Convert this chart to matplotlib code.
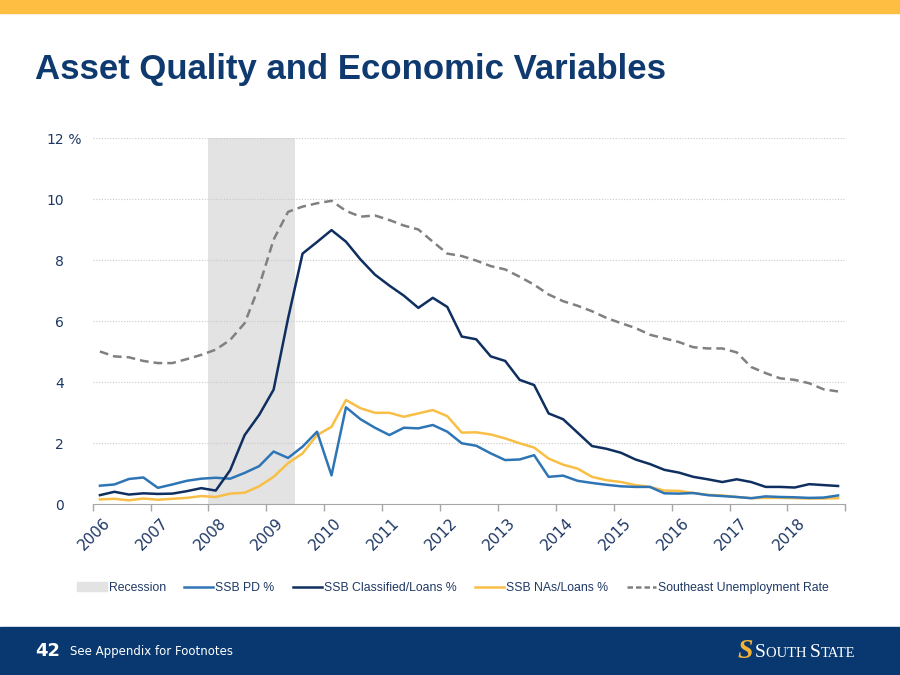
import matplotlib
matplotlib.use("Agg")
import matplotlib.pyplot as plt
import numpy as np
from matplotlib.lines import Line2D
from matplotlib.patches import Patch, Rectangle
from matplotlib.transforms import offset_copy

# quarterly data, 2006 Q1 .. 2018 Q4
pd_pct = [0.61, 0.65, 0.83, 0.88, 0.54, 0.65, 0.77, 0.84, 0.87, 0.84, 1.03, 1.25, 1.73,
          1.52, 1.89, 2.38, 0.95, 3.18, 2.79, 2.51, 2.27, 2.51, 2.49, 2.60, 2.38, 2.00,
          1.92, 1.67, 1.45, 1.47, 1.61, 0.90, 0.94, 0.77, 0.70, 0.64, 0.59, 0.57, 0.57,
          0.36, 0.35, 0.37, 0.30, 0.27, 0.24, 0.20, 0.26, 0.24, 0.23, 0.21, 0.22, 0.29]
classified_pct = [0.30, 0.41, 0.32, 0.36, 0.34, 0.35, 0.43, 0.53, 0.45, 1.12, 2.27, 2.93, 3.76,
                  6.10, 8.22, 8.60, 8.99, 8.61, 8.03, 7.53, 7.17, 6.84, 6.44, 6.77, 6.47, 5.50,
                  5.41, 4.85, 4.70, 4.08, 3.91, 2.98, 2.79, 2.35, 1.91, 1.82, 1.69, 1.47, 1.32,
                  1.13, 1.04, 0.90, 0.82, 0.73, 0.82, 0.73, 0.57, 0.57, 0.55, 0.66, 0.63, 0.60]
nas_pct = [0.16, 0.18, 0.13, 0.19, 0.15, 0.18, 0.21, 0.27, 0.24, 0.35, 0.38, 0.59, 0.90,
           1.35, 1.67, 2.27, 2.54, 3.42, 3.15, 3.00, 3.00, 2.87, 2.98, 3.09, 2.89, 2.35,
           2.36, 2.29, 2.16, 2.00, 1.86, 1.50, 1.30, 1.17, 0.90, 0.79, 0.73, 0.63, 0.57,
           0.45, 0.44, 0.37, 0.31, 0.29, 0.24, 0.20, 0.21, 0.21, 0.20, 0.19, 0.19, 0.20]
unemployment = [5.01, 4.85, 4.82, 4.70, 4.63, 4.63, 4.76, 4.90, 5.07, 5.39, 5.94, 7.15, 8.68,
                9.59, 9.76, 9.87, 9.95, 9.62, 9.43, 9.47, 9.32, 9.14, 9.01, 8.61, 8.22, 8.14,
                7.99, 7.81, 7.70, 7.46, 7.20, 6.88, 6.66, 6.51, 6.33, 6.11, 5.94, 5.78, 5.56,
                5.44, 5.32, 5.15, 5.11, 5.11, 4.98, 4.50, 4.30, 4.13, 4.08, 3.97, 3.77, 3.70]
years = list(range(2006, 2019))
recession = (2008.0, 2009.5)

NAVY = "#0f3a70"
TEXT = "#1f3864"

quarters = np.array([y + (q + 0.5) / 4 for y in years for q in range(4)])

fig = plt.figure(figsize=(9, 6.75), dpi=100)
fig.patch.set_facecolor("white")

# top gold band and bottom navy footer
fig.patches.append(Rectangle((0, 1 - 13 / 675), 1, 13 / 675, transform=fig.transFigure,
                             color="#fdbe41", zorder=0))
fig.patches.append(Rectangle((0, 0), 1, 48 / 675, transform=fig.transFigure,
                             color="#08386f", zorder=0))

fig.text(35 / 900, 1 - 70 / 675, "Asset Quality and Economic Variables",
         fontsize=25, fontweight="bold", color=NAVY, family="Liberation Sans",
         va="center", ha="left")

ax = fig.add_axes([92.7 / 900, 1 - 504.3 / 675, 752.6 / 900, 366 / 675])

ax.axvspan(*recession, color="#e3e3e3", lw=0, zorder=0)
ax.plot(quarters, pd_pct, color="#2e75b6", lw=1.8, zorder=3)
ax.plot(quarters, classified_pct, color="#0e2f5f", lw=1.8, zorder=4)
ax.plot(quarters, nas_pct, color="#f9be45", lw=1.8, zorder=2)
ax.plot(quarters, unemployment, color="#808080", lw=1.8, dashes=(3.5, 2), zorder=2)

ax.set_xlim(2006, 2019)
ax.set_ylim(0, 12)
ax.set_yticks(range(0, 13, 2))
ax.set_yticklabels([str(v) for v in range(0, 13, 2)], color=TEXT, fontsize=10)
ax.tick_params(axis="y", length=0, pad=20.5)
ax.set_xticks(range(2006, 2020))
ax.set_xticklabels([])
ax.tick_params(axis="x", direction="out", length=5, color="#a6a6a6", width=1)
for v in range(2, 13, 2):
    ax.axhline(v, color="#c8c8c8", lw=0.8, ls=(0, (1, 1.5)), zorder=1)
for s in ["top", "right", "left"]:
    ax.spines[s].set_visible(False)
ax.spines["bottom"].set_color("#a6a6a6")
ax.spines["bottom"].set_zorder(5)

pct_trans = offset_copy(ax.get_yaxis_transform(), fig=fig, x=-28.5, units="dots")
ax.text(0, 12, " %", transform=pct_trans, ha="left", va="center_baseline",
        color=TEXT, fontsize=10)

for y in years:
    ax.text(y + 0.26, -0.045, str(y), transform=ax.get_xaxis_transform(), rotation=45,
            rotation_mode="anchor", ha="right", va="center", color=TEXT, fontsize=11)

handles = [
    Patch(color="#e3e3e3", label="Recession"),
    Line2D([], [], color="#2e75b6", lw=1.8, label="SSB PD %"),
    Line2D([], [], color="#0e2f5f", lw=1.8, label="SSB Classified/Loans %"),
    Line2D([], [], color="#f9be45", lw=1.8, label="SSB NAs/Loans %"),
    Line2D([], [], color="#808080", lw=1.8, dashes=(2.2, 1.2), label="Southeast Unemployment Rate"),
]
leg = fig.legend(handles=handles, loc="center", bbox_to_anchor=(453 / 900, 1 - 588 / 675),
                 ncol=5, frameon=False, handlelength=2.4, handletextpad=0.15,
                 columnspacing=1.5, prop={"family": "Liberation Sans", "size": 8.8})
for t in leg.get_texts():
    t.set_color(TEXT)

# footer
fig.text(35 / 900, 1 - 651 / 675, "42", color="white", fontsize=13, fontweight="bold",
         va="center", ha="left")
fig.text(70 / 900, 1 - 651 / 675, "See Appendix for Footnotes", color="white", fontsize=8.5,
         va="center", ha="left")
fig.text(745 / 900, 1 - 651 / 675, "S", color="#f5b335", fontsize=20, fontweight="bold",
         style="italic", family="Liberation Serif", va="center", ha="center")

renderer = fig.canvas.get_renderer()
x = 755 / 900
for part, size in [("S", 14), ("OUTH ", 10.5), ("S", 14), ("TATE", 10.5)]:
    t = fig.text(x, 1 - 657 / 675, part, color="white", fontsize=size,
                 family="Liberation Serif", va="baseline", ha="left")
    x += t.get_window_extent(renderer).width / fig.bbox.width

fig.savefig("out.png", dpi=100)
